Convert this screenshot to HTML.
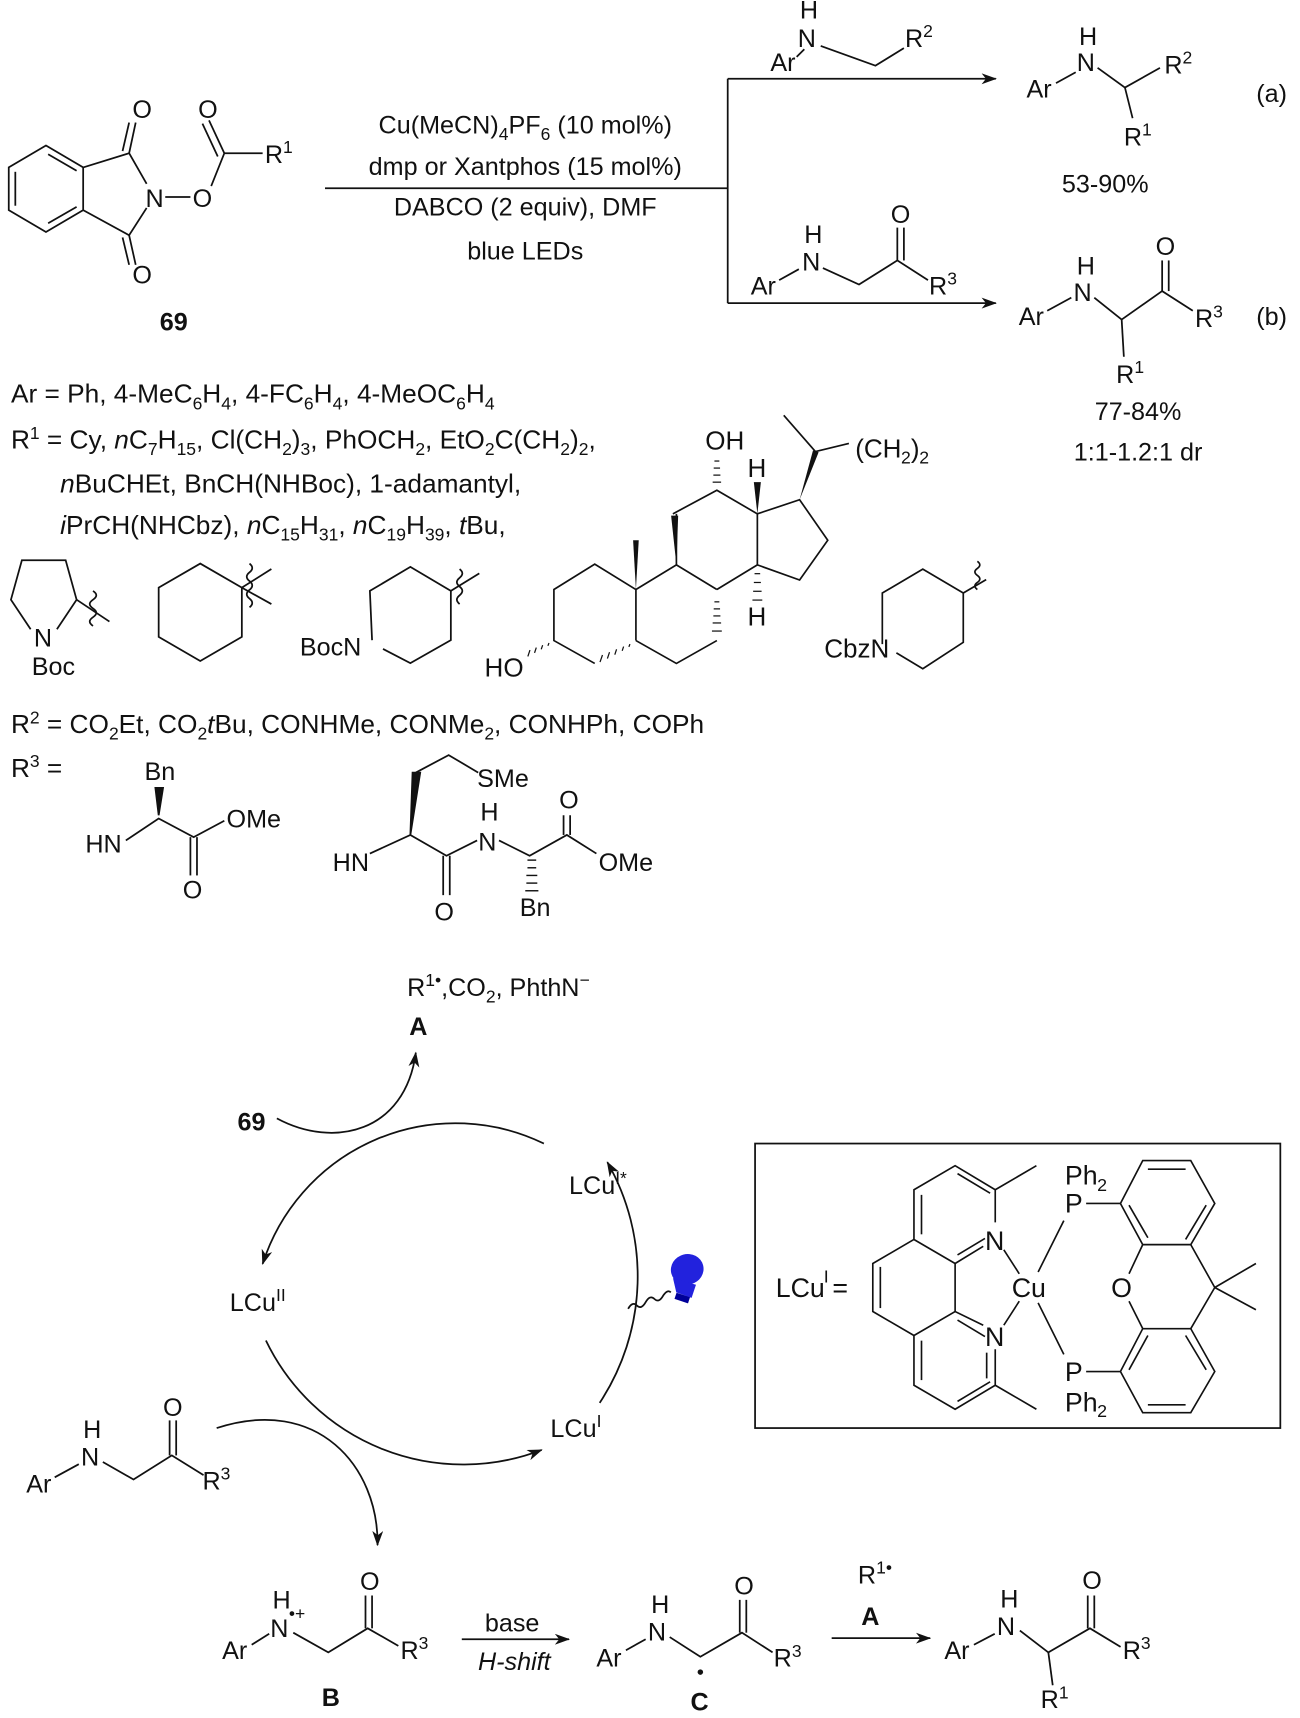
<!DOCTYPE html>
<html><head><meta charset="utf-8"><style>
html,body{margin:0;padding:0;background:#fff;}
svg{display:block;}
text{font-family:"Liberation Sans",sans-serif;fill:#111;}
</style></head><body>
<svg width="1300" height="1718" viewBox="0 0 1300 1718" xmlns="http://www.w3.org/2000/svg">
<defs>
<marker id="ah" markerWidth="14" markerHeight="10" refX="13" refY="5" orient="auto" markerUnits="userSpaceOnUse">
<path d="M0,0 L14,5 L0,10 L4,5 Z" fill="#111"/></marker>
</defs>
<g transform="scale(1.0943)" stroke="#111" stroke-width="1.6" fill="none" font-size="23">
<!-- compound 69 -->
<polygon points="42,133 76,153 76,192 42,212 8,192 8,153"/>
<line x1="14" y1="157" x2="14" y2="188"/><line x1="44" y1="141" x2="70" y2="156"/><line x1="44" y1="204" x2="70" y2="189"/>
<polyline points="76,153 118,140 134,168"/><polyline points="134,190 118,215 76,192"/>
<line x1="118" y1="140" x2="124" y2="112"/><line x1="112" y1="138" x2="118" y2="112"/>
<line x1="118" y1="215" x2="124" y2="242"/><line x1="112" y1="217" x2="118" y2="242"/>
<line x1="151" y1="180" x2="174" y2="180"/>
<polyline points="193,170 205,140 240,140"/>
<line x1="205" y1="140" x2="191" y2="110"/><line x1="199" y1="143" x2="185" y2="113"/>
<g stroke="none">
<text x="121" y="108">O</text><text x="121" y="259">O</text><text x="133" y="189">N</text><text x="176" y="189">O</text><text x="181" y="108">O</text>
<text x="242" y="149">R<tspan font-size="16" dy="-9">1</tspan></text>
<text x="146" y="302" font-weight="bold">69</text>
<text x="480" y="122" text-anchor="middle">Cu(MeCN)<tspan font-size="16" dy="6">4</tspan><tspan dy="-6">PF</tspan><tspan font-size="16" dy="6">6</tspan><tspan dy="-6"> (10 mol%)</tspan></text>
<text x="480" y="160" text-anchor="middle">dmp or Xantphos (15 mol%)</text>
<text x="480" y="197" text-anchor="middle">DABCO (2 equiv), DMF</text>
<text x="480" y="237" text-anchor="middle">blue LEDs</text>
</g>
<line x1="297" y1="172" x2="665" y2="172"/>
<line x1="665" y1="72" x2="665" y2="277"/>
<line x1="665" y1="72" x2="910" y2="72" marker-end="url(#ah)"/>
<line x1="665" y1="277" x2="910" y2="277" marker-end="url(#ah)"/>
<!-- reagent a -->
<g stroke="none"><text x="704" y="65">Ar</text><text x="729" y="43">N</text><text x="731" y="17">H</text>
<text x="827" y="43">R<tspan font-size="16" dy="-9">2</tspan></text></g>
<polyline points="728,52 735,45"/><polyline points="750,42 800,60 826,44"/>
<!-- product a -->
<g stroke="none"><text x="938" y="89">Ar</text><text x="984" y="65">N</text><text x="986" y="41">H</text>
<text x="1064" y="67">R<tspan font-size="16" dy="-9">2</tspan></text>
<text x="1027" y="133">R<tspan font-size="16" dy="-9">1</tspan></text>
<text x="1148" y="93">(a)</text><text x="1010" y="176" text-anchor="middle">53-90%</text></g>
<line x1="965" y1="76" x2="983" y2="66"/><polyline points="1003,62 1028,80 1060,62"/><line x1="1028" y1="80" x2="1035" y2="108"/>
<!-- reagent b -->
<g stroke="none"><text x="686" y="269">Ar</text><text x="733" y="247">N</text><text x="735" y="222">H</text>
<text x="814" y="204">O</text><text x="849" y="269">R<tspan font-size="16" dy="-9">3</tspan></text></g>
<line x1="712" y1="256" x2="730" y2="246"/><polyline points="752,245 785,260 820,238 848,256"/>
<line x1="820" y1="238" x2="820" y2="208"/><line x1="826" y1="238" x2="826" y2="208"/>
<!-- product b -->
<g stroke="none"><text x="931" y="297">Ar</text><text x="981" y="275">N</text><text x="984" y="251">H</text>
<text x="1056" y="233">O</text><text x="1092" y="299">R<tspan font-size="16" dy="-9">3</tspan></text>
<text x="1020" y="350">R<tspan font-size="16" dy="-9">1</tspan></text>
<text x="1148" y="297">(b)</text>
<text x="1040" y="384" text-anchor="middle">77-84%</text><text x="1040" y="421" text-anchor="middle">1:1-1.2:1 dr</text></g>
<line x1="957" y1="284" x2="979" y2="272"/><polyline points="1000,272 1025,292 1062,266 1090,284"/>
<line x1="1025" y1="292" x2="1027" y2="326"/>
<line x1="1062" y1="266" x2="1062" y2="238"/><line x1="1068" y1="266" x2="1068" y2="238"/>
<!-- text block -->
<g stroke="none" font-size="24">
<text x="10" y="368">Ar = Ph, 4-MeC<tspan font-size="16" dy="6">6</tspan><tspan dy="-6">H</tspan><tspan font-size="16" dy="6">4</tspan><tspan dy="-6">, 4-FC</tspan><tspan font-size="16" dy="6">6</tspan><tspan dy="-6">H</tspan><tspan font-size="16" dy="6">4</tspan><tspan dy="-6">, 4-MeOC</tspan><tspan font-size="16" dy="6">6</tspan><tspan dy="-6">H</tspan><tspan font-size="16" dy="6">4</tspan></text>
<text x="10" y="410">R<tspan font-size="16" dy="-9">1</tspan><tspan dy="9"> = Cy, </tspan><tspan font-style="italic">n</tspan>C<tspan font-size="16" dy="6">7</tspan><tspan dy="-6">H</tspan><tspan font-size="16" dy="6">15</tspan><tspan dy="-6">, Cl(CH</tspan><tspan font-size="16" dy="6">2</tspan><tspan dy="-6">)</tspan><tspan font-size="16" dy="6">3</tspan><tspan dy="-6">, PhOCH</tspan><tspan font-size="16" dy="6">2</tspan><tspan dy="-6">, EtO</tspan><tspan font-size="16" dy="6">2</tspan><tspan dy="-6">C(CH</tspan><tspan font-size="16" dy="6">2</tspan><tspan dy="-6">)</tspan><tspan font-size="16" dy="6">2</tspan><tspan dy="-6">,</tspan></text>
<text x="55" y="450"><tspan font-style="italic">n</tspan>BuCHEt, BnCH(NHBoc), 1-adamantyl,</text>
<text x="55" y="488"><tspan font-style="italic">i</tspan>PrCH(NHCbz), <tspan font-style="italic">n</tspan>C<tspan font-size="16" dy="6">15</tspan><tspan dy="-6">H</tspan><tspan font-size="16" dy="6">31</tspan><tspan dy="-6">, </tspan><tspan font-style="italic">n</tspan>C<tspan font-size="16" dy="6">19</tspan><tspan dy="-6">H</tspan><tspan font-size="16" dy="6">39</tspan><tspan dy="-6">, </tspan><tspan font-style="italic">t</tspan>Bu,</text>
</g>
<!-- pyrrolidine -->
<polyline points="28,575 10,548 20,512 60,512 70,548 52,575"/>
<line x1="70" y1="548" x2="100" y2="568"/>
<path d="M85,540 q6,4 0,8 q-6,4 0,8 q6,4 0,8 q-6,4 0,8"/>
<g stroke="none"><text x="31" y="591">N</text><text x="29" y="617">Boc</text></g>
<!-- cyclohexane -->
<polygon points="183,515 221,537 221,582 183,604 145,582 145,537"/>
<line x1="221" y1="537" x2="248" y2="520"/><line x1="221" y1="537" x2="248" y2="552"/>
<path d="M228,515 q5,4 0,8 q-5,4 0,8 q5,4 0,8 q-5,4 0,8 q5,4 0,8"/>
<!-- BocN piperidine -->
<polyline points="340,585 338,540 375,518 412,540 412,585 375,606 350,593"/>
<line x1="412" y1="540" x2="438" y2="524"/>
<path d="M420,520 q5,4 0,8 q-5,4 0,8 q5,4 0,8 q-5,4 0,8"/>
<g stroke="none"><text x="274" y="599">BocN</text></g>
<!-- R2, R3 -->
<g stroke="none">
<text x="10" y="670" font-size="24">R<tspan font-size="16" dy="-9">2</tspan><tspan dy="9"> = CO</tspan><tspan font-size="16" dy="6">2</tspan><tspan dy="-6">Et, CO</tspan><tspan font-size="16" dy="6">2</tspan><tspan dy="-6" font-style="italic">t</tspan>Bu, CONHMe, CONMe<tspan font-size="16" dy="6">2</tspan><tspan dy="-6">, CONHPh, COPh</tspan></text>
<text x="10" y="710" font-size="24">R<tspan font-size="16" dy="-9">3</tspan><tspan dy="9"> =</tspan></text>
<text x="132" y="713">Bn</text><text x="78" y="779">HN</text><text x="207" y="756">OMe</text><text x="167" y="821">O</text>
<text x="436" y="719">SMe</text><text x="304" y="796">HN</text><text x="437" y="777">N</text><text x="439" y="750">H</text>
<text x="511" y="739">O</text><text x="547" y="796">OMe</text><text x="397" y="841">O</text><text x="475" y="837">Bn</text>
</g>
<!-- R3 struct 1 -->
<polygon points="145,745 142,720 149,720" fill="#111"/>
<polyline points="115,768 145,748 177,765 205,750"/>
<line x1="174" y1="765" x2="174" y2="800"/><line x1="180" y1="765" x2="180" y2="800"/>
<!-- R3 struct 2 -->
<polyline points="437,706 410,690 380,706"/>
<polygon points="375,763 377,706 384,706" fill="#111"/>
<polyline points="338,780 375,763 408,782 436,768"/>
<line x1="405" y1="782" x2="405" y2="818"/><line x1="411" y1="782" x2="411" y2="818"/>
<polyline points="456,768 484,782 518,763 545,780"/>
<line x1="515" y1="763" x2="515" y2="745"/><line x1="521" y1="763" x2="521" y2="745"/>
<g stroke-width="1.3"><line x1="482" y1="786" x2="490" y2="786"/><line x1="482" y1="793" x2="490" y2="793"/><line x1="481" y1="800" x2="491" y2="800"/><line x1="481" y1="807" x2="491" y2="807"/><line x1="480" y1="814" x2="492" y2="814"/></g>
<!-- cycle -->
<g stroke="none">
<text x="372" y="910">R<tspan font-size="16" dy="-9">1•</tspan><tspan dy="9">,CO</tspan><tspan font-size="16" dy="6">2</tspan><tspan dy="-6">, PhthN</tspan><tspan font-size="16" dy="-9">−</tspan></text>
<text x="374" y="946" font-weight="bold">A</text>
<text x="217" y="1033" font-weight="bold">69</text>
<text x="520" y="1091">LCu<tspan font-size="16" dy="-9">I*</tspan></text>
<text x="210" y="1198">LCu<tspan font-size="16" dy="-9">II</tspan></text>
<text x="503" y="1313">LCu<tspan font-size="16" dy="-9">I</tspan></text>
</g>
<path d="M497,1045 A185,185 0 0 0 240,1155" marker-end="url(#ah)"/>
<path d="M243,1225 A200,200 0 0 0 495,1325" marker-end="url(#ah)"/>
<path d="M548,1282 A210,210 0 0 0 555,1062" marker-end="url(#ah)"/>
<path d="M253,1022 C305,1050 370,1035 380,962" marker-end="url(#ah)"/>
<path d="M198,1305 C290,1275 346,1340 345,1412" marker-end="url(#ah)"/>
<!-- bulb -->
<path d="M574,1196 q4,-7 8,-3 q4,4 8,-3 q4,-7 8,-3 q4,4 8,-3 q4,-6 7,-3"/>
<g stroke="none" fill="#2222dd">
<ellipse cx="628" cy="1160" rx="15" ry="14" transform="rotate(-15 628 1160)"/>
<polygon points="615,1168 636,1174 632,1186 618,1181"/>
<rect x="617" y="1183" width="13" height="6" transform="rotate(18 623 1186)" fill="#000099"/>
</g>
<!-- substrate left -->
<g stroke="none"><text x="24" y="1364">Ar</text><text x="74" y="1339">N</text><text x="76" y="1314">H</text>
<text x="149" y="1294">O</text><text x="185" y="1361">R<tspan font-size="16" dy="-9">3</tspan></text></g>
<line x1="50" y1="1350" x2="72" y2="1338"/><polyline points="94,1336 122,1352 157,1330 186,1348"/>
<line x1="155" y1="1330" x2="155" y2="1298"/><line x1="161" y1="1330" x2="161" y2="1298"/>
<!-- B -->
<g stroke="none"><text x="203" y="1516">Ar</text><text x="247" y="1496">N</text><text x="249" y="1470">H</text><text x="264" y="1480" font-size="16">•+</text>
<text x="329" y="1453">O</text><text x="366" y="1516">R<tspan font-size="16" dy="-9">3</tspan></text>
<text x="294" y="1559" font-weight="bold">B</text></g>
<line x1="230" y1="1503" x2="246" y2="1493"/><polyline points="268,1492 300,1510 336,1488 364,1504"/>
<line x1="334" y1="1488" x2="334" y2="1458"/><line x1="340" y1="1488" x2="340" y2="1458"/>
<line x1="422" y1="1498" x2="520" y2="1498" marker-end="url(#ah)"/>
<g stroke="none"><text x="468" y="1491" text-anchor="middle">base</text><text x="470" y="1526" text-anchor="middle" font-style="italic">H-shift</text></g>
<!-- C -->
<g stroke="none"><text x="545" y="1523">Ar</text><text x="592" y="1499">N</text><text x="595" y="1474">H</text>
<text x="671" y="1457">O</text><text x="707" y="1523">R<tspan font-size="16" dy="-9">3</tspan></text>
<text x="631" y="1563" font-weight="bold">C</text></g>
<circle cx="640" cy="1528" r="2.5" fill="#111" stroke="none"/>
<line x1="572" y1="1508" x2="590" y2="1498"/><polyline points="612,1496 640,1514 678,1492 706,1510"/>
<line x1="676" y1="1492" x2="676" y2="1462"/><line x1="682" y1="1492" x2="682" y2="1462"/>
<line x1="760" y1="1497" x2="850" y2="1497" marker-end="url(#ah)"/>
<g stroke="none"><text x="784" y="1447">R<tspan font-size="16" dy="-9">1•</tspan></text><text x="787" y="1485" font-weight="bold">A</text></g>
<!-- product -->
<g stroke="none"><text x="863" y="1516">Ar</text><text x="911" y="1494">N</text><text x="914" y="1469">H</text>
<text x="989" y="1452">O</text><text x="1026" y="1516">R<tspan font-size="16" dy="-9">3</tspan></text>
<text x="951" y="1561">R<tspan font-size="16" dy="-9">1</tspan></text></g>
<line x1="890" y1="1503" x2="909" y2="1493"/><polyline points="932,1490 958,1510 996,1488 1024,1505"/>
<line x1="958" y1="1510" x2="962" y2="1540"/>
<line x1="994" y1="1488" x2="994" y2="1458"/><line x1="1000" y1="1488" x2="1000" y2="1458"/>
<!-- box -->
<rect x="690" y="1045" width="480" height="260"/>
</g>

<!-- steroid + CbzN piperidine, zoom coords -->
<g transform="translate(430,410) scale(0.352)" stroke="#111" stroke-width="4.8" fill="none" font-size="74">
<polyline points="468,720 352,655 352,510 468,438 585,510 585,655"/>
<polyline points="585,655 700,720 815,655"/>
<polyline points="585,510 700,440 815,510"/>
<polyline points="700,440 700,295"/>
<polyline points="690,295 815,228 930,295 930,440 815,510"/>
<polyline points="930,295 1050,255 1130,370 1050,483 930,440"/>
<polyline points="1095,118 1005,15"/><line x1="1095" y1="118" x2="1190" y2="95"/>
<g fill="#111" stroke="none">
<polygon points="1050,255 1088,115 1104,120"/>
<polygon points="585,510 577,370 593,370"/>
<polygon points="700,440 685,300 705,300"/>
<polygon points="930,295 920,205 940,205"/>
<text x="782" y="112">OH</text><text x="902" y="190">H</text><text x="902" y="612">H</text>
<text x="1208" y="135">(CH</text><text x="1338" y="152" font-size="50">2</text><text x="1366" y="135">)</text><text x="1390" y="152" font-size="50">2</text>
<text x="155" y="757">HO</text>
<text x="1120" y="703">CbzN</text>
</g>
<g stroke-width="3.5">
<line x1="808" y1="145" x2="822" y2="145"/><line x1="806" y1="165" x2="824" y2="165"/><line x1="805" y1="185" x2="825" y2="185"/><line x1="803" y1="205" x2="827" y2="205"/>
<line x1="808" y1="545" x2="822" y2="545"/><line x1="806" y1="565" x2="824" y2="565"/><line x1="805" y1="585" x2="825" y2="585"/><line x1="803" y1="605" x2="827" y2="605"/><line x1="801" y1="628" x2="829" y2="628"/>
<line x1="922" y1="465" x2="938" y2="465"/><line x1="920" y1="490" x2="940" y2="490"/><line x1="918" y1="515" x2="942" y2="515"/><line x1="916" y1="540" x2="944" y2="540"/>
<line x1="338" y1="662" x2="335" y2="670"/><line x1="320" y1="668" x2="316" y2="680"/><line x1="302" y1="675" x2="297" y2="690"/><line x1="284" y1="682" x2="278" y2="700"/>
<line x1="568" y1="665" x2="565" y2="673"/><line x1="550" y1="672" x2="546" y2="684"/><line x1="530" y1="680" x2="525" y2="695"/><line x1="510" y1="688" x2="504" y2="706"/><line x1="490" y1="696" x2="483" y2="716"/>
</g>
<polyline points="1285,665 1285,520 1400,452 1515,520 1515,660 1400,735 1325,690"/>
<line x1="1515" y1="520" x2="1580" y2="482"/>
<path d="M1555,430 q14,10 0,20 q-14,10 0,20 q14,10 0,20 q-14,10 0,20"/>
</g>

<!-- ligand, zoom coords -->
<g transform="translate(750,1140) scale(0.343)" stroke="#111" stroke-width="4.8" fill="none" font-size="78">
<polyline points="715,240 715,145 598,75 478,145 478,290 598,360 680,310"/>
<line x1="500" y1="160" x2="500" y2="275"/><line x1="605" y1="98" x2="700" y2="155"/><line x1="605" y1="335" x2="685" y2="287"/>
<polyline points="478,290 358,360 358,500 478,570"/><line x1="380" y1="370" x2="380" y2="490"/>
<line x1="598" y1="360" x2="598" y2="500"/>
<polyline points="680,540 598,500 478,570 478,715 598,785 715,715 715,610"/>
<line x1="605" y1="525" x2="685" y2="573"/><line x1="500" y1="585" x2="500" y2="700"/><line x1="605" y1="762" x2="700" y2="705"/><line x1="690" y1="620" x2="690" y2="695"/>
<line x1="715" y1="145" x2="835" y2="75"/><line x1="715" y1="715" x2="835" y2="785"/>
<line x1="740" y1="320" x2="785" y2="390"/><line x1="740" y1="540" x2="785" y2="470"/>
<line x1="840" y1="385" x2="915" y2="235"/><line x1="840" y1="475" x2="915" y2="625"/>
<line x1="980" y1="185" x2="1080" y2="185"/><line x1="980" y1="675" x2="1080" y2="675"/>
<polygon points="1080,185 1145,60 1285,60 1355,185 1285,305 1145,305"/>
<line x1="1160" y1="85" x2="1270" y2="85"/><line x1="1330" y1="190" x2="1270" y2="290"/><line x1="1160" y1="285" x2="1105" y2="190"/>
<polygon points="1145,550 1285,550 1355,675 1285,795 1145,795 1080,675"/>
<line x1="1160" y1="570" x2="1105" y2="670"/><line x1="1270" y1="570" x2="1330" y2="670"/><line x1="1160" y1="772" x2="1270" y2="772"/>
<line x1="1145" y1="305" x2="1105" y2="390"/><line x1="1105" y1="470" x2="1145" y2="550"/>
<polyline points="1285,305 1355,430 1285,550"/><line x1="1355" y1="430" x2="1475" y2="360"/><line x1="1355" y1="430" x2="1475" y2="495"/>
<g fill="#111" stroke="none">
<text x="75" y="458">LCu</text><text x="215" y="415" font-size="52">I</text><text x="240" y="458"> =</text>
<text x="685" y="320">N</text><text x="685" y="600">N</text><text x="763" y="458">Cu</text>
<text x="918" y="212">P</text><text x="918" y="130">Ph</text><text x="1012" y="148" font-size="52">2</text>
<text x="918" y="702">P</text><text x="918" y="792">Ph</text><text x="1012" y="808" font-size="52">2</text>
<text x="1053" y="458">O</text>
</g>
</g>
</svg>
</body></html>
